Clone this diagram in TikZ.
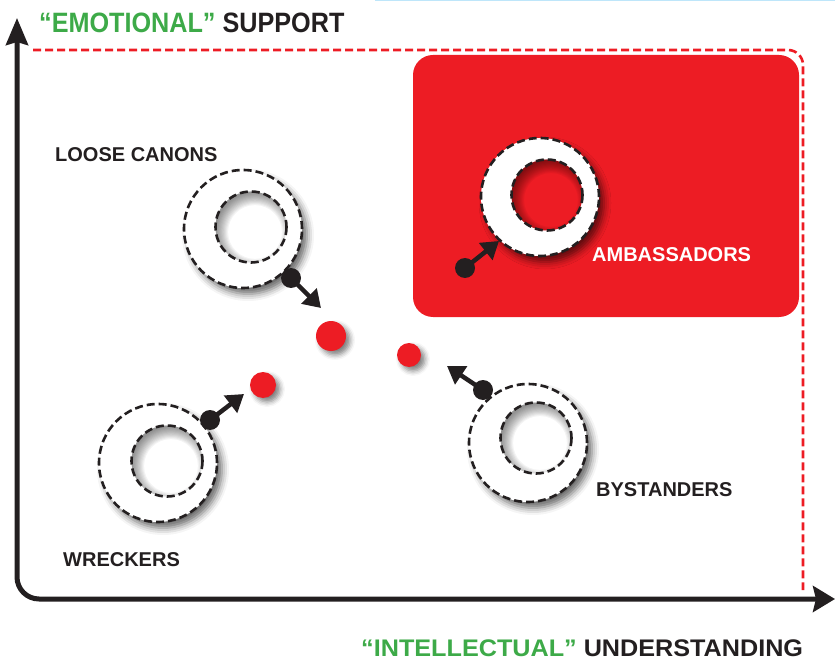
\documentclass[tikz,border=0pt]{standalone}
\usepackage{fontspec}
\setmainfont{Liberation Sans}
\newfontfamily\narrowfont{Liberation Sans}[FakeStretch=0.9]
\newfontfamily\widefont{Liberation Sans}[FakeStretch=1.05]
\usetikzlibrary{arrows.meta,shadows.blur}

\definecolor{boxred}{RGB}{237,28,36}
\definecolor{inkblack}{RGB}{35,31,32}
\definecolor{axisgreen}{RGB}{61,170,72}
\definecolor{rulesky}{RGB}{190,230,250}

\tikzset{
  axisline/.style={line width=5, inkblack, rounded corners=22,
    {Stealth[length=27pt,width=22pt,inset=3pt]}-{Stealth[length=22pt,width=26pt,inset=3pt]}},
  frameline/.style={boxred, line width=2.6, dash pattern=on 8pt off 4pt, rounded corners=15},
  ringdash/.style={draw=inkblack, line width=2.6, dash pattern=on 8pt off 4pt},
  ringout/.style={circle, fill=white, ringdash, minimum size=118pt, inner sep=0pt,
    blur shadow={shadow xshift=5pt, shadow yshift=-6pt, shadow blur radius=7pt, shadow opacity=60}},
  reddot/.style={circle, fill=boxred, inner sep=0pt,
    blur shadow={shadow xshift=4pt, shadow yshift=-4pt, shadow blur radius=5pt, shadow opacity=50}},
  blackdot/.style={circle, fill=inkblack, minimum size=20pt, inner sep=0pt},
  push/.style={line width=4.5, inkblack, -{Triangle[length=17pt,width=21pt]}},
  tag/.style={anchor=base west, inner sep=0pt, font=\bfseries\fontsize{20}{22}\selectfont}
}

\begin{document}
\begin{tikzpicture}[x=1pt,y=-1pt]
  \useasboundingbox (0,0) rectangle (835,660);

  % thin rule along the top edge
  \draw[rulesky, line width=1.5] (375,0.75) -- (835,0.75);

  % red quadrant and its dashed frame
  \fill[boxred, rounded corners=20] (413,55) rectangle (799,317);
  \draw[frameline] (33,50) -- (803,50) -- (803,590);

  % axes
  \coordinate (ytip) at (17,18);
  \coordinate (origin) at (17,599);
  \coordinate (xtip) at (835,599);
  \draw[axisline] (ytip) -- (origin) -- (xtip);

  % rings: outer disc, hole, soft shadow thrown into the hole
  \foreach \n/\ox/\oy/\ix/\iy/\bg in {lc/243/229/251/227/white,
                                       am/540/197/547/195/boxred,
                                       wr/158/463/167/461/white,
                                       by/528/443/536/438/white} {
    \node[ringout] (\n) at (\ox,\oy) {};
    \node[circle, fill=\bg, minimum size=71pt, inner sep=0pt] (\n-in) at (\ix,\iy) {};
    \begin{scope}
      \clip (\n-in.center) circle (35.5);
      \foreach \k in {0,...,11}
        \fill[black, opacity=0.045, even odd rule]
          ([shift={(-60,-60)}]\n-in.center) rectangle ([shift={(60,60)}]\n-in.center)
          ([shift={(4,5)}]\n-in.center) circle (39-1.1*\k);
    \end{scope}
    \draw[ringdash] (\n-in.center) circle (35.5);
  }

  % red dots in the middle
  \node[reddot, minimum size=30pt] (mid) at (331,336) {};
  \node[reddot, minimum size=24pt] (right) at (409,355) {};
  \node[reddot, minimum size=26pt] (left) at (263,385) {};

  % movement arrows
  \coordinate (lc-tip) at (321,308);
  \coordinate (am-tip) at (499,241);
  \coordinate (wr-tip) at (244,394);
  \coordinate (by-tip) at (447,366);
  \draw[push] (291,278) -- (lc-tip);
  \draw[push] (465,268) -- (am-tip);
  \draw[push] (210,420) -- (wr-tip);
  \draw[push] (483,390) -- (by-tip);
  \node[blackdot] (lc-dot) at (291,278) {};
  \node[blackdot] (am-dot) at (465,268) {};
  \node[blackdot] (wr-dot) at (210,420) {};
  \node[blackdot] (by-dot) at (483,390) {};

  % labels
  \node[tag, inkblack] (lc-tag) at (55,162) {LOOSE CANONS};
  \node[tag, white] (am-tag) at (592,262) {AMBASSADORS};
  \node[tag, inkblack] (by-tag) at (596,496) {BYSTANDERS};
  \node[tag, inkblack] (wr-tag) at (63,566) {WRECKERS};

  % axis titles
  \node[anchor=base west, inner sep=0pt, font=\narrowfont\bfseries\fontsize{28}{30}\selectfont]
    (ytitle) at (39,33) {\textcolor{axisgreen}{“EMOTIONAL”} \textcolor{inkblack}{SUPPORT}};
  \node[anchor=base west, inner sep=0pt, font=\widefont\bfseries\fontsize{24}{26}\selectfont]
    (xtitle) at (361,656) {\textcolor{axisgreen}{“INTELLECTUAL”} \textcolor{inkblack}{UNDERSTANDING}};
\end{tikzpicture}
\end{document}
